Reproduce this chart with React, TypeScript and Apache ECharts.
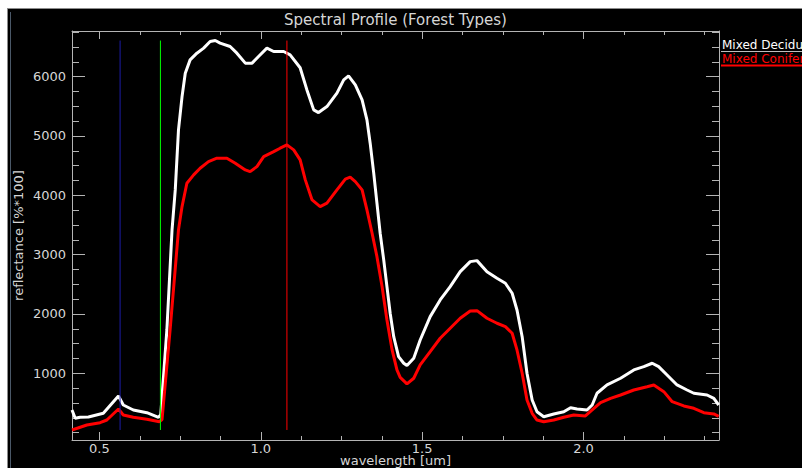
import React, { useEffect, useRef } from "react";
import * as echarts from "echarts";

// ---- data ----
const seriesNames = ["Mixed Deciduous", "Mixed Conifer"];

const deciduousWavelength = [
  0.415, 0.425, 0.44, 0.466, 0.512, 0.559, 0.574, 0.605, 0.647, 0.683, 0.69,
  0.709, 0.725, 0.735, 0.745, 0.756, 0.766, 0.781, 0.802, 0.823, 0.843, 0.859,
  0.874, 0.905, 0.926, 0.952, 0.973, 0.993, 1.019, 1.04, 1.071, 1.091, 1.122,
  1.143, 1.164, 1.179, 1.205, 1.236, 1.257, 1.272, 1.293, 1.314, 1.329, 1.339,
  1.35, 1.36, 1.37, 1.381, 1.391, 1.401, 1.412, 1.427, 1.443, 1.453, 1.474,
  1.494, 1.525, 1.556, 1.587, 1.618, 1.649, 1.67, 1.701, 1.732, 1.758, 1.779,
  1.794, 1.81, 1.825, 1.841, 1.856, 1.877, 1.908, 1.939, 1.96, 1.98, 2.011,
  2.027, 2.042, 2.073, 2.115, 2.156, 2.187, 2.213, 2.233, 2.259, 2.29, 2.321,
  2.342, 2.383, 2.404, 2.419,
];
const deciduousValue = [
  381, 241, 258, 262, 325, 617, 465, 381, 336, 258, 300, 1730, 3417, 4091,
  5103, 5664, 6059, 6283, 6396, 6481, 6592, 6609, 6565, 6508, 6396, 6228, 6228,
  6339, 6481, 6424, 6424, 6368, 6150, 5777, 5440, 5395, 5496, 5722, 5946, 6013,
  5862, 5609, 5272, 4879, 4373, 3867, 3361, 2911, 2460, 2012, 1617, 1280, 1169,
  1130, 1253, 1561, 1955, 2236, 2460, 2713, 2882, 2899, 2713, 2602, 2518, 2349,
  2067, 1617, 1000, 550, 352, 268, 314, 352, 420, 398, 381, 465, 663, 803, 916,
  1056, 1111, 1169, 1111, 971, 803, 718, 663, 634, 578, 465,
];

const coniferWavelength = [
  0.415, 0.461, 0.502, 0.523, 0.559, 0.574, 0.605, 0.647, 0.686, 0.694, 0.719,
  0.745, 0.756, 0.771, 0.792, 0.812, 0.838, 0.864, 0.895, 0.921, 0.952, 0.967,
  0.988, 1.009, 1.04, 1.06, 1.081, 1.102, 1.122, 1.138, 1.159, 1.184, 1.205,
  1.236, 1.262, 1.277, 1.293, 1.314, 1.329, 1.345, 1.36, 1.376, 1.391, 1.407,
  1.422, 1.432, 1.453, 1.474, 1.494, 1.525, 1.556, 1.587, 1.618, 1.649, 1.67,
  1.701, 1.732, 1.758, 1.779, 1.794, 1.81, 1.825, 1.841, 1.856, 1.877, 1.908,
  1.939, 1.97, 2.006, 2.027, 2.053, 2.084, 2.115, 2.156, 2.197, 2.218, 2.249,
  2.275, 2.311, 2.342, 2.373, 2.404, 2.419,
];
const coniferValue = [
  44, 128, 167, 212, 398, 297, 258, 224, 184, 220, 1730, 3417, 3810, 4204, 4344,
  4457, 4568, 4626, 4626, 4541, 4428, 4400, 4484, 4653, 4737, 4794, 4850, 4766,
  4597, 4260, 3922, 3810, 3867, 4091, 4272, 4305, 4231, 4091, 3754, 3361, 2966,
  2460, 1899, 1393, 1056, 930, 820, 916, 1140, 1364, 1590, 1759, 1927, 2051,
  2056, 1927, 1843, 1786, 1675, 1393, 1000, 550, 325, 212, 184, 212, 258, 297,
  280, 381, 504, 578, 634, 718, 774, 803, 690, 521, 449, 410, 336, 314, 275,
];

// band marker wavelengths (blue, green, red display bands)
const markerWavelength = [0.564, 0.689, 1.081];

// axis range and ticks
const xRange = [0.415, 2.42];
const yRange = [-125, 6770];
const xMajorTicks = [0.5, 1.0, 1.5, 2.0];
const xMinorTicks = [
  0.625, 0.75, 0.875, 1.125, 1.25, 1.375, 1.625, 1.75, 1.875, 2.125, 2.25, 2.375,
];
const yMajorTicks = [1000, 2000, 3000, 4000, 5000, 6000];
const yMinorTicks = [
  0, 250, 500, 750, 1250, 1500, 1750, 2250, 2500, 2750, 3250, 3500, 3750, 4250,
  4500, 4750, 5250, 5500, 5750, 6250, 6500, 6750,
];

const titleText = "Spectral Profile (Forest Types)";
const xAxisName = "wavelength [um]";
const yAxisName = "reflectance [%*100]";

// ---- styles ----
const FONT = "DejaVu Sans";
const AXIS_COLOR = "#b4b4b4";
const TEXT_COLOR = "#d6d6d6";
const SERIES_COLORS = ["#ffffff", "#ff0000"];
const MARKER_COLORS = ["#1c1ca8", "#00ff00", "#ff0000"];

const W = 794;
const H = 459;
const GRID = { left: 64, top: 22, right: 83, bottom: 28 };

function buildOption() {
  const allValues = deciduousValue.concat(coniferValue);
  const lo = Math.min(...allValues);
  const hi = Math.max(...allValues);

  const grids = [0, 1, 2, 3].map(() => ({
    ...GRID,
    containLabel: false,
    outerBoundsMode: "none",
  }));

  const lineOn = { show: true, onZero: false, lineStyle: { color: AXIS_COLOR, width: 1 } };
  const lineOff = { show: false, onZero: false };

  const baseX = (gridIndex: number, position: string) => ({
    type: "value",
    gridIndex,
    position,
    min: xRange[0],
    max: xRange[1],
    splitLine: { show: false },
    axisLine: lineOff,
    axisLabel: { show: false },
  });
  const baseY = (gridIndex: number, position: string) => ({
    type: "value",
    gridIndex,
    position,
    min: yRange[0],
    max: yRange[1],
    splitLine: { show: false },
    axisLine: lineOff,
    axisLabel: { show: false },
  });
  const ticks = (length: number, values: number[]) => ({
    show: true,
    inside: true,
    length,
    customValues: values,
    lineStyle: { color: AXIS_COLOR, width: 1 },
  });

  const xAxis = [
    {
      ...baseX(0, "bottom"),
      axisLine: lineOn,
      axisTick: ticks(8, xMajorTicks),
      axisLabel: {
        show: true,
        customValues: xMajorTicks,
        formatter: (v: number) => v.toFixed(1),
        color: TEXT_COLOR,
        fontFamily: FONT,
        fontSize: 13,
        margin: 2,
      },
      name: xAxisName,
      nameLocation: "middle",
      nameGap: 14,
      nameMoveOverlap: false,
      nameTextStyle: { color: TEXT_COLOR, fontFamily: FONT, fontSize: 13 },
    },
    { ...baseX(1, "bottom"), axisTick: ticks(4, xMinorTicks) },
    { ...baseX(2, "top"), axisLine: lineOn, axisTick: ticks(8, xMajorTicks) },
    { ...baseX(3, "top"), axisTick: ticks(4, xMinorTicks) },
  ];

  const yAxis = [
    {
      ...baseY(0, "left"),
      axisLine: lineOn,
      axisTick: ticks(13, yMajorTicks),
      axisLabel: {
        show: true,
        customValues: yMajorTicks,
        formatter: (v: number) => String(v),
        color: TEXT_COLOR,
        fontFamily: FONT,
        fontSize: 13,
        margin: 6,
      },
      name: yAxisName,
      nameLocation: "middle",
      nameGap: 47,
      nameRotate: 90,
      nameMoveOverlap: false,
      nameTextStyle: { color: TEXT_COLOR, fontFamily: FONT, fontSize: 13 },
    },
    { ...baseY(1, "left"), axisTick: ticks(7, yMinorTicks) },
    { ...baseY(2, "right"), axisLine: lineOn, axisTick: ticks(13, yMajorTicks) },
    { ...baseY(3, "right"), axisTick: ticks(7, yMinorTicks) },
  ];

  const curves = [
    { wl: deciduousWavelength, v: deciduousValue },
    { wl: coniferWavelength, v: coniferValue },
  ].map((s, i) => ({
    type: "line",
    name: seriesNames[i],
    xAxisIndex: 0,
    yAxisIndex: 0,
    data: s.wl.map((w, j) => [w, s.v[j]]),
    showSymbol: false,
    symbol: "none",
    smooth: false,
    clip: true,
    z: 2 + i,
    lineStyle: { color: SERIES_COLORS[i], width: 3 },
  }));

  const markers = markerWavelength.map((w, i) => ({
    type: "line",
    name: "band" + i,
    xAxisIndex: 0,
    yAxisIndex: 0,
    data: [
      [w, lo],
      [w, hi],
    ],
    showSymbol: false,
    symbol: "none",
    z: 10,
    lineStyle: { color: MARKER_COLORS[i], width: 1 },
  }));

  return {
    animation: false,
    backgroundColor: "#000000",
    grid: grids,
    xAxis,
    yAxis,
    series: [...curves, ...markers],
    graphic: [
      {
        type: "line",
        shape: { x1: 2.5, y1: 3, x2: 2.5, y2: H },
        style: { stroke: "#4a5868", lineWidth: 1 },
        silent: true,
      },
      {
        type: "text",
        x: GRID.left + (W - GRID.left - GRID.right) / 2,
        y: 11,
        style: {
          text: titleText,
          fill: TEXT_COLOR,
          font: `15px "${FONT}"`,
          textAlign: "center",
          textVerticalAlign: "middle",
        },
      },
      {
        type: "text",
        x: W - GRID.right + 3,
        y: 36,
        style: {
          text: seriesNames[0],
          fill: SERIES_COLORS[0],
          font: `12px "${FONT}"`,
          textAlign: "left",
          textVerticalAlign: "middle",
        },
      },
      {
        type: "line",
        shape: { x1: W - GRID.right + 2, y1: 42.5, x2: W, y2: 42.5 },
        style: { stroke: "#bdbdbd", lineWidth: 1 },
      },
      {
        type: "text",
        x: W - GRID.right + 3,
        y: 50,
        style: {
          text: seriesNames[1],
          fill: SERIES_COLORS[1],
          font: `12px "${FONT}"`,
          textAlign: "left",
          textVerticalAlign: "middle",
        },
      },
      {
        type: "line",
        shape: { x1: W - GRID.right + 2, y1: 56.5, x2: W, y2: 56.5 },
        style: { stroke: SERIES_COLORS[1], lineWidth: 2 },
      },
    ],
  };
}

export default function App() {
  const ref = useRef<HTMLDivElement>(null);
  useEffect(() => {
    if (!ref.current) return;
    const chart = echarts.init(ref.current, null, { renderer: "svg" });
    chart.setOption(buildOption() as any);
    return () => chart.dispose();
  }, []);
  return (
    <div
      style={{
        position: "absolute",
        left: 7,
        top: 8,
        width: W + 1,
        height: H + 1,
        boxSizing: "border-box",
        borderTop: "1px solid #8c8c8c",
        borderLeft: "1px solid #8c8c8c",
        background: "#000",
        overflow: "hidden",
      }}
    >
      <div ref={ref} style={{ width: W, height: H }} />
    </div>
  );
}
